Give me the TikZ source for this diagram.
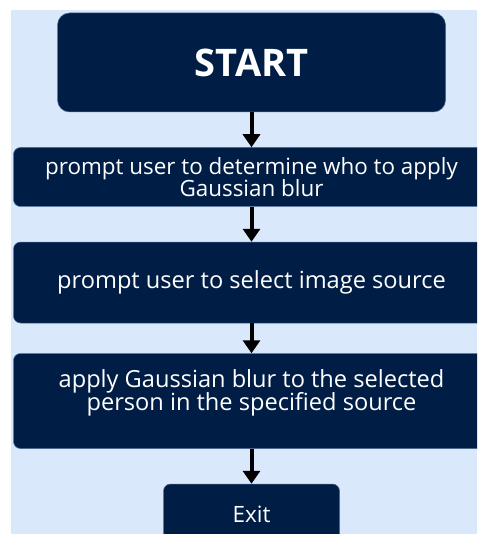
\documentclass[tikz,border=0pt]{standalone}
\usepackage{fontspec}
\setmainfont{Open Sans}
\usetikzlibrary{arrows.meta, positioning}
\definecolor{flownavy}{HTML}{001E45}
\definecolor{flowedge}{HTML}{4F6A92}
\definecolor{canvasblue}{HTML}{DAE8FC}
\newcommand{\tightlead}{\lineskiplimit=-100pt\relax}

\begin{document}
\begin{tikzpicture}[x=1pt, y=-1pt,
  stepbox/.style={
    rectangle, rounded corners=7pt,
    fill=flownavy, draw=flowedge, line width=0.5pt,
    text=white, align=center, inner sep=0pt
  },
  arr/.style={-{Triangle[length=13pt, width=17pt]}, line width=4pt},
  node distance=35pt
]
  \useasboundingbox (0,0) rectangle (477,534);
  \clip (0,0) rectangle (477,534);
  \fill[white] (0,0) rectangle (477,534);
  \fill[canvasblue] (11,10) rectangle (477,534);

  % Start box
  \node[stepbox, rounded corners=12pt, minimum width=388pt, minimum height=99pt,
        font=\fontsize{38}{42}\selectfont\bfseries] (start) at (251.5,62.5) {START};

  % Steps (wider than the canvas on the right)
  \node[stepbox, below=35pt of start, minimum width=476pt, minimum height=59pt,
        font=\fontsize{22.4}{22.5}\selectfont\tightlead] (who)
        {prompt user to determine who to apply\\Gaussian blur};
  \node[stepbox, below=35pt of who, minimum width=476pt, minimum height=81pt,
        font=\fontsize{23.6}{26}\selectfont] (source)
        {prompt user to select image source};
  \node[stepbox, below=30pt of source, minimum width=476pt, minimum height=95pt,
        font=\fontsize{23.6}{23.5}\selectfont\tightlead, text depth=22pt] (blur)
        {apply Gaussian blur to the selected\\person in the specified source};

  % Exit box (cut off at the bottom)
  \node[stepbox, below=35pt of blur, minimum width=176pt, minimum height=60pt,
        font=\fontsize{22.5}{26}\selectfont] (exit) {Exit};

  % Arrows
  \draw[arr] (start) -- (who);
  \draw[arr] (who) -- (source);
  \draw[arr] (source) -- (blur);
  \draw[arr] (blur) -- (exit);
\end{tikzpicture}
\end{document}
